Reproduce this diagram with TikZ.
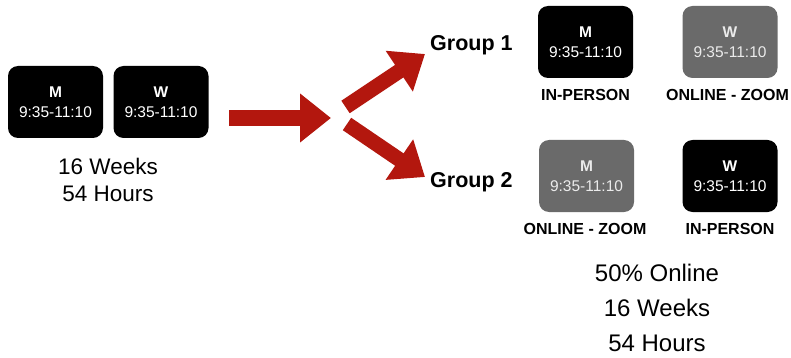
\documentclass[tikz,border=0pt]{standalone}
\usepackage{fontspec}
\setmainfont{Liberation Sans}
\usetikzlibrary{arrows.meta,positioning}
\definecolor{arrowred}{HTML}{B3170E}
\definecolor{zoomgray}{HTML}{6A6A6A}
\tikzset{
  slot/.style={rounded corners=10pt, minimum width=95pt, minimum height=72pt, inner sep=0pt,
    align=center, text=white, font=\fontsize{15.5}{20}\selectfont},
  inperson/.style={slot, fill=black},
  online/.style={slot, fill=zoomgray, text=white!92!black},
  mode/.style={font=\fontsize{16}{18}\selectfont\bfseries, inner sep=0pt},
  grp/.style={font=\fontsize{21.5}{26}\selectfont\bfseries, inner sep=0pt, anchor=west},
  bigarrow/.style={draw=arrowred, line cap=butt, -{Triangle[length=31pt,width=47pt]}},
}
\begin{document}
\begin{tikzpicture}[x=1pt,y=-1pt]
\useasboundingbox (0,0) rectangle (791,358);
% left
\node[inperson] (lm) at (55.5,102) {\textbf{M}\\9:35-11:10};
\node[inperson] (lw) at (161,102) {\textbf{W}\\9:35-11:10};
\node[align=center, font=\fontsize{22.5}{27}\selectfont, inner sep=0pt] (ltxt) at (108,179.5) {16 Weeks\\54 Hours};
% arrows
\coordinate (h0) at (229,118);
\coordinate (h1) at (331,118);
\coordinate (u0) at (345.5,107);
\coordinate (u1) at (425,54);
\coordinate (d0) at (347,124);
\coordinate (d1) at (425,177);
\draw[bigarrow, line width=16pt] (h0) -- (h1);
\draw[bigarrow, line width=15pt] (u0) -- (u1);
\draw[bigarrow, line width=15pt] (d0) -- (d1);
% groups
\node[grp] (g1) at (430,45) {Group 1};
\node[grp] (g2) at (430,182) {Group 2};
% group 1 slots
\node[inperson] (g1m) at (585.5,42) {\textbf{M}\\9:35-11:10};
\node[online] (g1w) at (730,42) {\textbf{W}\\9:35-11:10};
\node[mode] (g1ml) at (585.5,95) {IN-PERSON};
\node[mode] (g1wl) at (727.5,95) {ONLINE - ZOOM};
% group 2 slots
\node[online] (g2m) at (586.5,176) {\textbf{M}\\9:35-11:10};
\node[inperson] (g2w) at (730,176) {\textbf{W}\\9:35-11:10};
\node[mode] (g2ml) at (585,229) {ONLINE - ZOOM};
\node[mode] (g2wl) at (730,229) {IN-PERSON};
% summary
\node[align=center, font=\fontsize{24}{35}\selectfont, inner sep=0pt] (rtxt) at (657,308) {50\% Online\\16 Weeks\\54 Hours};
\end{tikzpicture}
\end{document}
